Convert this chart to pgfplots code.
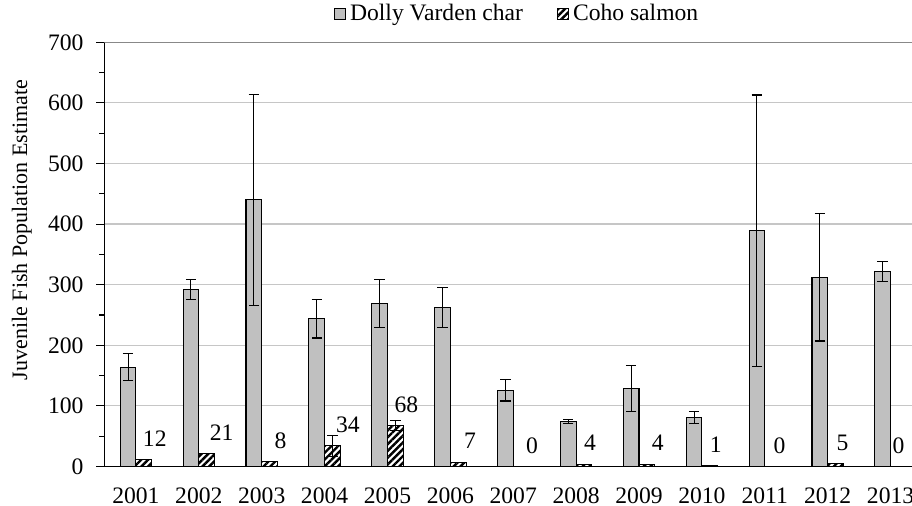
\documentclass[border=0pt]{standalone}
\usepackage{fontspec}
\setmainfont{Liberation Serif}
\usepackage{pgfplots}
\pgfplotsset{compat=1.18}
\usepackage{pgfplotstable}
\usetikzlibrary{patterns.meta}
\definecolor{dvgray}{HTML}{C0C0C0}
\definecolor{gridgray}{HTML}{C6C6C6}
\definecolor{topgray}{HTML}{888888}

% idx = year-2001; dx = label offset from coho bar centre (pt)
\pgfplotstableread{
idx dolly derr coho cerr dx
0   164  22   12   0    5.5
1   292  16   21   0    7.5
2   440  174  8    0    5.5
3   244  32   34   17   7.75
4   269  40   68   8    5.5
5   263  33   7    0    5.85
6   126  18   0    0    5.5
7   74   3    4    0    3
8   128  38   4    0    5.5
9   81   10   1    0    3
10  389  224  0    0    3.5
11  312  105  5    0    3.5
12  322  17   0    0    0
}\fishdata

\begin{document}
\begin{tikzpicture}
\begin{axis}[
  at={(0,0)}, anchor=south west,
  scale only axis, width=408.75pt, height=212.1pt,
  ybar=0pt, bar width=7.86pt,
  xmin=-0.5, xmax=12.5, ymin=0, ymax=700,
  enlargelimits=false,
  axis x line*=bottom, axis y line*=left,
  axis line style={black, line width=0.55pt},
  xtick={0,...,12},
  xticklabels={2001,2002,2003,2004,2005,2006,2007,2008,2009,2010,2011,2012,2013},
  x tick style={draw=none},
  extra x ticks={-0.5,5.5,11.5}, extra x tick labels={},
  extra x tick style={major tick length=3.5pt, tick style={draw=black, line width=0.55pt}, grid=none},
  ytick={0,100,...,700}, minor y tick num=1,
  tick align=outside,
  y tick style={black, line width=0.55pt},
  major tick length=4pt, minor tick length=2.5pt,
  ymajorgrids, grid style={gridgray, line width=0.6pt},
  tick label style={font=\fontsize{11.8}{13}\selectfont},
  /pgf/number format/assume math mode=true,
  xticklabel style={yshift=-3.2pt},
  yticklabel style={xshift=-3pt},
  ylabel={Juvenile Fish Population Estimate},
  ylabel style={font=\fontsize{11}{13}\selectfont, at={(axis description cs:-0.101,0.5575)}, anchor=center, rotate=0},
  legend columns=2,
  legend style={draw=none, fill=none, at={(axis description cs:0.506,1.0665)}, anchor=center,
    font=\fontsize{11.8}{13}\selectfont, inner sep=0pt,
    /tikz/every even column/.append style={column sep=15pt}},
  legend cell align=left,
  legend image code/.code={\draw[#1, line width=0.5pt] (0pt,-2.75pt) rectangle (5.5pt,2.75pt);},
  error bars/y dir=both, error bars/y explicit,
  error bars/error bar style={black, line width=0.5pt},
  error bars/error mark options={rotate=90, mark size=2.6pt, black, line width=0.55pt},
]
\addplot[fill=dvgray, draw=black, line width=0.55pt]
  table[x=idx, y=dolly, y error=derr]{\fishdata};
\addplot[draw=black, line width=0.55pt, pattern={Lines[angle=45, distance=2.4pt, line width=1.2pt]},
  nodes near coords,
  visualization depends on={\thisrow{dx} \as \dx},
  every node near coord/.append style={anchor=center, xshift=\dx pt, yshift=10.5pt,
    font=\fontsize{11.8}{13}\selectfont, black}]
  table[x=idx, y=coho, y error=cerr]{\fishdata};
\legend{Dolly Varden char, Coho salmon}
\draw[topgray, line width=0.6pt] (rel axis cs:0,1) -- (rel axis cs:1,1);
\end{axis}
\pgfresetboundingbox
\useasboundingbox (-52.25pt,-19.75pt) rectangle (403.75pt,233.25pt);
\end{tikzpicture}
\end{document}
